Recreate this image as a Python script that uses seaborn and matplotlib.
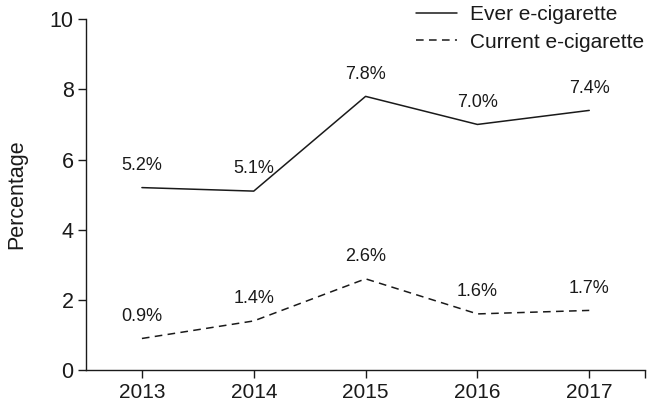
import matplotlib
matplotlib.use("Agg")
import matplotlib.pyplot as plt
import seaborn as sns
import pandas as pd

years = ["2013", "2014", "2015", "2016", "2017"]
ever = [5.2, 5.1, 7.8, 7.0, 7.4]
current = [0.9, 1.4, 2.6, 1.6, 1.7]
series_names = ["Ever e-cigarette", "Current e-cigarette"]
y_ticks = [0, 2, 4, 6, 8, 10]

sns.set_theme(style="ticks")
plt.rcParams["font.family"] = ["Liberation Sans", "DejaVu Sans"]

df = pd.DataFrame({
    "year": years * 2,
    "x": list(range(len(years))) * 2,
    "value": ever + current,
    "series": [series_names[0]] * len(years) + [series_names[1]] * len(years),
})

fig = plt.figure(figsize=(6.54, 4.08), dpi=100)
ax = fig.add_axes([0.1315, 0.093, 0.855, 0.86])

sns.lineplot(data=df, x="x", y="value", style="series", style_order=series_names,
             dashes={series_names[0]: "", series_names[1]: (5, 3.5)},
             color="#1a1a1a", linewidth=1.1, ax=ax, legend=True)

for vals in (ever, current):
    for i, v in enumerate(vals):
        ax.annotate(f"{v:.1f}%", (i, v), xytext=(0, 16), textcoords="offset points",
                    ha="center", va="center", fontsize=13, color="#1a1a1a")

ax.set_xlim(-0.5, 4.5)
ax.set_ylim(0, 10)
ax.set_xticks(list(range(len(years))) + [4.5])
ax.set_xticklabels(years + [""], fontsize=15, color="#1a1a1a")
ax.set_yticks(y_ticks)
ax.set_yticklabels([str(t) for t in y_ticks], fontsize=15.5, color="#1a1a1a")
ax.tick_params(direction="out", length=6, width=1, color="#1a1a1a", pad=3)
ax.set_xlabel("")
ax.set_ylabel("Percentage", fontsize=15.5, color="#1a1a1a", labelpad=16)
for s in ["top", "right"]:
    ax.spines[s].set_visible(False)
for s in ["left", "bottom"]:
    ax.spines[s].set_color("#1a1a1a")
    ax.spines[s].set_linewidth(1.0)

leg = ax.legend(loc="upper right", bbox_to_anchor=(1.005, 1.051), frameon=False,
                fontsize=15, handlelength=2.0, handletextpad=0.6, labelspacing=0.4,
                borderaxespad=0, borderpad=0.2)
for t in leg.get_texts():
    t.set_color("#1a1a1a")
for h in leg.get_lines():
    h.set_linewidth(1.1)

fig.savefig("out.png", dpi=100)
